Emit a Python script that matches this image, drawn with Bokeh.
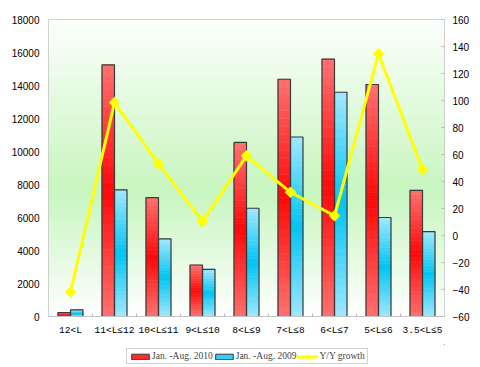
import numpy as np
from bokeh.plotting import figure
from bokeh.layouts import column
from bokeh.models import (Range1d, LinearAxis, FixedTicker, Legend, LegendItem,
                          ColumnDataSource)
from bokeh.transform import dodge
from bokeh.embed import file_html
from bokeh.resources import INLINE

# ---- data ----
categories = ["12<L", "11<L≤12", "10<L≤11", "9<L≤10", "8<L≤9",
              "7<L≤8", "6<L≤7", "5<L≤6", "3.5<L≤5"]
sales_2010 = [235, 15250, 7200, 3120, 10550, 14380, 15600, 14060, 7650]
sales_2009 = [405, 7680, 4710, 2860, 6560, 10880, 13590, 6000, 5150]
growth = [-42, 98.5, 53, 10.5, 59, 32, 14.6, 134.5, 49]
series_names = ["Jan. -Aug. 2010", "Jan. -Aug. 2009", "Y/Y growth"]
left_ticks = list(range(0, 18001, 2000))
right_ticks = list(range(-60, 161, 20))

xs = list(range(len(categories)))
W = 478

p = figure(output_backend="svg", toolbar_location=None,
           width=W, height=344,
           min_border_left=48, min_border_right=W - 48 - 396, min_border_top=19,
           min_border_bottom=28,
           x_range=Range1d(-0.5, len(categories) - 0.5),
           y_range=Range1d(0, 18000))
p.extra_y_ranges = {"g": Range1d(-60, 160)}
p.background_fill_color = "white"
p.border_fill_color = "white"
p.outline_line_color = "#c4c4c4"
p.xgrid.visible = False
p.ygrid.visible = False

# ---- gradient background for the plot area ----
N = 120
t = np.linspace(1, 0, N)
top_c = np.array([255, 255, 255]); mid_c = np.array([200, 246, 192]); bot_c = np.array([252, 255, 252])
rows = []
for tt in t:
    f = 1 - tt
    if f <= 0.42:
        c = top_c + (mid_c - top_c) * (f / 0.42)
    else:
        c = mid_c + (bot_c - mid_c) * ((f - 0.42) / 0.58)
    rows.append(c)
rows = np.array(rows).astype(np.uint32)
img = np.empty((N, 1), dtype=np.uint32)
img[:, 0] = (255 << 24) | (rows[:, 2] << 16) | (rows[:, 1] << 8) | rows[:, 0]
p.image_rgba(image=[img], x=-0.5, y=0, dw=len(categories), dh=18000, level="underlay")

# ---- bars with vertical gradient ----
BW = 0.284
OFF = 0.142
SEG = 30

def grad(light, dark, f):
    w = 1 - abs(f - 0.5) * 2
    c = np.array(light) + (np.array(dark) - np.array(light)) * w
    return "#%02x%02x%02x" % tuple(int(round(v)) for v in c)

def seg_source(vals, offset, light, dark):
    sx, sb, st, sc = [], [], [], []
    for i, v in enumerate(vals):
        for k in range(SEG):
            sx.append(xs[i] + offset)
            sb.append(v * k / SEG)
            st.append(v * (k + 1) / SEG)
            f = 1 - (k + 0.5) / SEG
            sc.append(grad(light, dark, f))
    return ColumnDataSource(dict(x=sx, bottom=sb, top=st, color=sc))

red_light, red_dark = (255, 112, 112), (255, 8, 8)
blue_light, blue_dark = (160, 232, 255), (0, 196, 242)

p.vbar(x="x", bottom="bottom", top="top", width=BW, source=seg_source(sales_2010, -OFF, red_light, red_dark),
       fill_color="color", line_color="color", line_width=0.6)
p.vbar(x="x", bottom="bottom", top="top", width=BW, source=seg_source(sales_2009, OFF, blue_light, blue_dark),
       fill_color="color", line_color="color", line_width=0.6)

src = ColumnDataSource(dict(x=xs, a=sales_2010, b=sales_2009, g=growth))
p.vbar(x=dodge("x", -OFF), top="a", width=BW, source=src, fill_alpha=0,
       line_color="#3a3a3a", line_width=1.2)
p.vbar(x=dodge("x", OFF), top="b", width=BW, source=src, fill_alpha=0,
       line_color="#3a3a3a", line_width=1.2)

# ---- growth line ----
p.line(x="x", y="g", source=src, y_range_name="g", line_color="#ffff00", line_width=3)
p.scatter(x="x", y="g", source=src, y_range_name="g", marker="square", angle=np.pi / 4,
          size=7.5, fill_color="#ffff00", line_color="#ffff00")

# ---- axes ----
xa = p.xaxis[0]
xa.ticker = FixedTicker(ticks=xs, minor_ticks=[i + 0.5 for i in xs[:-1]])
xa.major_label_overrides = {i: c for i, c in zip(xs, categories)}
xa.major_tick_in = 0
xa.major_tick_out = 0
xa.minor_tick_in = 3
xa.minor_tick_out = 0
xa.minor_tick_line_color = "#b8b8b8"
xa.axis_line_color = "#c4c4c4"
xa.major_label_text_font = "Liberation Mono"
xa.major_label_text_font_size = "9.5px"
xa.major_label_text_color = "black"
xa.major_label_standoff = 8
xa.axis_label_standoff = 0

ya = p.yaxis[0]
ya.ticker = FixedTicker(ticks=left_ticks)
ya.major_tick_in = 0
ya.major_tick_out = 0
ya.minor_tick_line_color = None
ya.axis_line_color = None
ya.major_label_text_font = "Liberation Sans"
ya.major_label_text_font_size = "10px"
ya.major_label_text_color = "black"
ya.major_label_standoff = 9

ra = LinearAxis(y_range_name="g", ticker=FixedTicker(ticks=right_ticks))
ra.major_tick_in = 3
ra.major_tick_out = 0
ra.major_tick_line_color = "#b8b8b8"
ra.minor_tick_line_color = None
ra.axis_line_color = None
ra.major_label_text_font = "Liberation Sans"
ra.major_label_text_font_size = "10px"
ra.major_label_text_color = "black"
ra.major_label_standoff = 8
p.add_layout(ra, "right")

# ---- legend strip (separate small figure; legend renderers sit outside its visible range) ----
lf = figure(output_backend="svg", toolbar_location=None, width=W, height=21,
            min_border=0, x_axis_location=None, y_axis_location=None,
            x_range=Range1d(0, 1), y_range=Range1d(0, 1))
lf.outline_line_color = None
lf.xgrid.visible = False
lf.ygrid.visible = False
lf.background_fill_color = "white"
lf.border_fill_color = "white"
r1 = lf.vbar(x=[5], bottom=[5], top=[6], width=0.1, fill_color="#ff2a2a", line_color="#3a3a3a", line_width=1)
r2 = lf.vbar(x=[5], bottom=[5], top=[6], width=0.1, fill_color="#33d0f6", line_color="#3a3a3a", line_width=1)
r3 = lf.line(x=[5, 6], y=[5, 6], line_color="#ffff00", line_width=3)
r4 = lf.scatter(x=[5], y=[5], marker="square", angle=np.pi / 4, size=6,
                fill_color="#ffff00", line_color="#ffff00")
legend = Legend(items=[
    LegendItem(label=series_names[0], renderers=[r1]),
    LegendItem(label=series_names[1], renderers=[r2]),
    LegendItem(label=series_names[2], renderers=[r3, r4]),
], orientation="horizontal", location=(78, 1))
legend.border_line_color = "#a8a8a8"
legend.border_line_width = 1
legend.background_fill_color = "white"
legend.padding = 2
legend.margin = 0
legend.spacing = 0
legend.glyph_width = 22
legend.glyph_height = 7
legend.label_height = 10
legend.label_standoff = 1
legend.label_text_font = "Liberation Serif"
legend.label_text_font_size = "9.5px"
lf.add_layout(legend, "center")

layout = column(p, lf, spacing=0)

open("out.html", "w").write(file_html(layout, INLINE))
